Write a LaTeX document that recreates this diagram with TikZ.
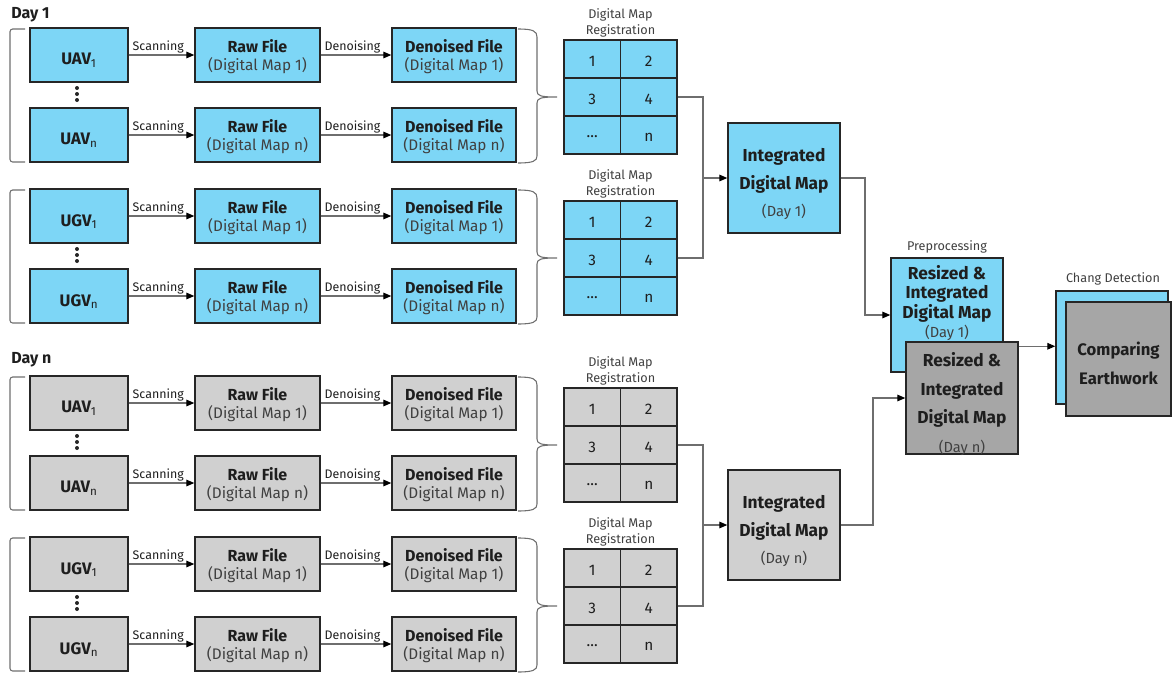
\documentclass[tikz,border=0pt]{standalone}
\usepackage{fontspec}
\setmainfont{Fira Sans}
\usetikzlibrary{arrows.meta,fit,calc}
\definecolor{bl}{RGB}{125,214,246}
\definecolor{gr}{RGB}{208,208,208}
\definecolor{dg}{RGB}{166,166,166}
\definecolor{ed}{RGB}{38,38,38}
\definecolor{tx}{RGB}{30,30,30}
\definecolor{sub}{RGB}{64,64,64}
\definecolor{ln}{RGB}{110,110,110}
\tikzset{
  box/.style={draw=ed, line width=1.1pt, inner sep=0pt},
  bbox/.style={box, fill=bl},
  gbox/.style={box, fill=gr},
  dbox/.style={box, fill=dg},
  conn/.style={draw=ln, line width=0.8pt},
  arr/.style={conn, -{Triangle[length=6pt,width=5pt,color=black]}},
  lab/.style={font=\fontsize{9.3}{11}\selectfont, text=tx, inner sep=1pt},
  lab2/.style={font=\fontsize{9.5}{12}\selectfont, text=sub, inner sep=0pt, align=center},
  brk/.style={draw=ln, line width=0.8pt},
  head/.style={font=\fontsize{12}{14}\selectfont\bfseries, text=tx, inner sep=0pt, anchor=west},
  txt/.style={align=center, text=tx, inner sep=0pt},
}
\newcommand\B[1]{{\fontsize{12}{13.5}\selectfont\bfseries #1}}
\newcommand\Sb[1]{\textcolor{sub}{#1}}
\newcommand\Src[2]{\raisebox{-2.5pt}[\height][\depth]{\fontsize{12.5}{14}\selectfont\bfseries #1\textsubscript{\mdseries #2}}}
\newcommand\bx[7]{\node[#1, minimum width={(#5-(#3))*0.75pt}, minimum height={(#6-(#4))*0.75pt},
   label={[txt, font=\fontsize{11.5}{13.5}\selectfont, yshift=-1.5pt]center:{#7}}] (#2) at ({(#3+#5)/2},{(#4+#6)/2}) {};}
\newcommand\grp[4]{%
  \bx{#3}{#1s1}{30}{#2}{128}{#2+54}{\Src{#4}{1}}
  \bx{#3}{#1s2}{30}{#2+80}{128}{#2+134}{\Src{#4}{n}}
  \bx{#3}{#1r1}{195}{#2}{320}{#2+54}{\B{Raw File}\\\Sb{(Digital Map 1)}}
  \bx{#3}{#1r2}{195}{#2+80}{320}{#2+134}{\B{Raw File}\\\Sb{(Digital Map n)}}
  \bx{#3}{#1d1}{392}{#2}{516}{#2+54}{\B{Denoised File}\\\Sb{(Digital Map 1)}}
  \bx{#3}{#1d2}{392}{#2+80}{516}{#2+134}{\B{Denoised File}\\\Sb{(Digital Map n)}}
  \draw[arr] (#1s1) -- node[lab, above, pos=.45] {Scanning} (#1r1);
  \draw[arr] (#1s2) -- node[lab, above, pos=.45] {Scanning} (#1r2);
  \draw[arr] (#1r1) -- node[lab, above, pos=.45] {Denoising} (#1d1);
  \draw[arr] (#1r2) -- node[lab, above, pos=.45] {Denoising} (#1d2);
  % dots
  \fill[ed] (77,#2+60) circle (2) (77,#2+66) circle (2) (77,#2+72) circle (2);
  % left bracket
  \draw[brk, rounded corners=2pt] (25,#2+1) -- (10,#2+1) -- (10,#2+134) -- (25,#2+134);
  % right brace
  \draw[brk] (518,#2+1) .. controls (533,#2+1) and (537,#2+3) .. (537,#2+9) -- (537,#2+63)
     .. controls (537,#2+68) and (541,#2+69) .. (557,#2+69)
     .. controls (541,#2+69) and (537,#2+70) .. (537,#2+75) -- (537,#2+128)
     .. controls (537,#2+133) and (533,#2+135) .. (518,#2+135);
  % grid
  \bx{#3}{#1c1}{564}{#2+12}{620.5}{#2+50}{1}
  \bx{#3}{#1c2}{620.5}{#2+12}{677}{#2+50}{2}
  \bx{#3}{#1c3}{564}{#2+50}{620.5}{#2+88}{3}
  \bx{#3}{#1c4}{620.5}{#2+50}{677}{#2+88}{4}
  \bx{#3}{#1c5}{564}{#2+88}{620.5}{#2+126}{...}
  \bx{#3}{#1c6}{620.5}{#2+88}{677}{#2+126}{n}
  \node[lab2] (#1t) at (620.5,#2-5) {Digital Map\\Registration};
}
\begin{document}
\begin{tikzpicture}[x=0.75pt, y=-0.75pt]
\useasboundingbox (0,0) rectangle (1172,675);
\node[head] (day1) at (11,15) {Day 1};
\node[head] (dayn) at (11,360) {Day n};
\grp{a}{28}{bbox}{UAV}
\grp{b}{189}{bbox}{UGV}
\grp{c}{376}{gbox}{UAV}
\grp{d}{537}{gbox}{UGV}
% integrated maps
\node[bbox, fit={(728,123)(840,233)},
  label={[txt, yshift=-4.5pt, font=\fontsize{13}{20.5}\selectfont]center:{\bfseries Integrated\\\bfseries Digital Map\\\textcolor{sub}{\fontsize{11}{20.5}\selectfont(Day 1)}}}] (i1) {};
\node[gbox, fit={(728,470)(840,580)},
  label={[txt, yshift=-4.5pt, font=\fontsize{13}{20.5}\selectfont]center:{\bfseries Integrated\\\bfseries Digital Map\\\textcolor{sub}{\fontsize{11}{20.5}\selectfont(Day n)}}}] (i2) {};
\coordinate (j1) at (703,178);
\coordinate (j2) at (703,525);
\draw[conn] (ac4.east) -| (j1);
\draw[conn] (bc4.east) -| (j1);
\draw[arr] (j1) -- (i1.west);
\draw[conn] (cc4.east) -| (j2);
\draw[conn] (dc4.east) -| (j2);
\draw[arr] (j2) -- (i2.west);
% preprocessing
\node[lab2] (pp) at (947,247) {Preprocessing};
\node[bbox, fit={(891,258)(1003,372)},
  label={[txt, font=\fontsize{13}{14.3}\selectfont, yshift=9pt]center:{\bfseries Resized \&\\\bfseries Integrated\\\bfseries Digital Map\\\textcolor{sub}{\fontsize{11}{14.3}\selectfont(Day 1)}}}] (r1) {};
\node[dbox, fit={(906,342)(1018,454)},
  label={[txt, font=\fontsize{13}{21.5}\selectfont, yshift=-4.5pt]center:{\bfseries Resized \&\\\bfseries Integrated\\\bfseries Digital Map\\\textcolor{sub}{\fontsize{11}{21.5}\selectfont(Day n)}}}] (rn) {};
\coordinate (k1) at (865,178);
\coordinate (k2) at (873,525);
\draw[arr] (i1.east) -- (k1) |- (r1.west);
\draw[arr] (i2.east) -- (k2) |- (rn.west);
% change detection
\node[lab2] (cdl) at (1113,279) {Chang Detection};
\node[bbox, fit={(1056,291)(1168,404)}] (cdb) {};
\node[dbox, fit={(1066,302)(1171,416)},
  label={[txt, font=\fontsize{12.5}{21.7}\selectfont, yshift=-3pt]center:{\bfseries Comparing\\\bfseries Earthwork}}] (cdg) {};
\coordinate (s) at ([yshift=-3.75pt]rn.north east);
\draw[arr] (s) -- (s -| cdb.west);
\end{tikzpicture}
\end{document}
